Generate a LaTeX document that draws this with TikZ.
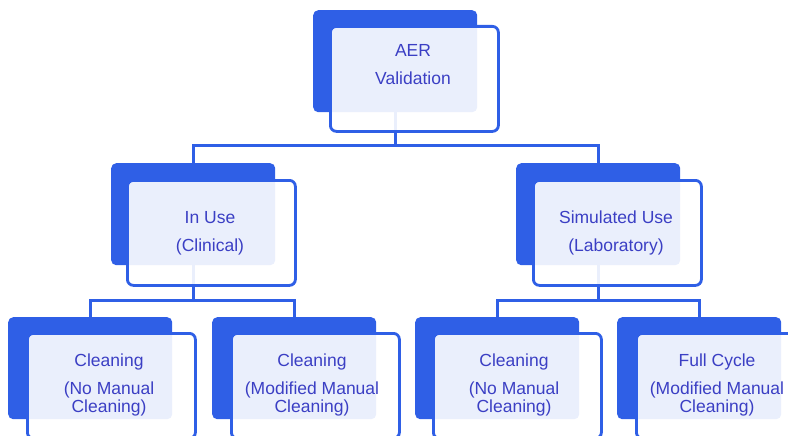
\documentclass[tikz,border=0pt]{standalone}
\usepackage{fontspec}
\setmainfont{Liberation Sans}
\definecolor{bblue}{HTML}{2F5FE6}
\definecolor{tblue}{HTML}{3B3FC4}
\begin{document}
\begin{tikzpicture}[x=1pt,y=-1pt,
  backbox/.style={fill=bblue, draw=none, rounded corners=5pt, minimum width=164pt, minimum height=102pt, inner sep=0pt, anchor=north west},
  frontbox/.style={fill=white, fill opacity=0.9, draw=bblue, draw opacity=1, line width=2.8pt, rounded corners=6pt, minimum width=168pt, minimum height=105pt, inner sep=0pt, anchor=north west},
  lbl/.style={text=tblue, font=\fontsize{17.5}{18}\selectfont, align=center, inner sep=0pt},
  conn/.style={draw=bblue, line width=3pt}]
\useasboundingbox (0,0) rectangle (788,436);
\clip (0,0) rectangle (788,436);
% back boxes
\node[backbox] (tb) at (313,10) {};
\node[backbox] (lb) at (111,163) {};
\node[backbox] (rb) at (516,163) {};
\node[backbox] (b1b) at (8,317) {};
\node[backbox] (b2b) at (212,317) {};
\node[backbox] (b3b) at (415,317) {};
\node[backbox] (b4b) at (617,317) {};
% bus coordinates
\coordinate (bus1) at (0,145);
\coordinate (bus2) at (0,300);
% connectors
\draw[conn] (tb.south) -- (tb.south |- bus1);
\draw[conn] (lb.north) -- (lb.north |- bus1) -- (rb.north |- bus1) -- (rb.north);
\draw[conn] (lb.south) -- (lb.south |- bus2);
\draw[conn] (b1b.north) -- (b1b.north |- bus2) -- (b2b.north |- bus2) -- (b2b.north);
\draw[conn] (rb.south) -- (rb.south |- bus2);
\draw[conn] (b3b.north) -- (b3b.north |- bus2) -- (b4b.north |- bus2) -- (b4b.north);
% front boxes
\node[frontbox] (tf) at (329,25) {};
\node[frontbox] (lf) at (126,179) {};
\node[frontbox] (rf) at (532,179) {};
\node[frontbox] (b1f) at (26,332) {};
\node[frontbox] (b2f) at (230,332) {};
\node[frontbox] (b3f) at (432,332) {};
\node[frontbox] (b4f) at (635,332) {};
% labels
\node[lbl] (tt) at (413,65) {AER\\[10pt]Validation};
\node[lbl] (lt) at (210,233) {In Use\\[10pt](Clinical)};
\node[lbl] (rt) at (616,233) {Simulated Use\\[10pt](Laboratory)};
\node[lbl] (b1t) at (109,385) {Cleaning\\[10pt](No Manual\\Cleaning)};
\node[lbl] (b2t) at (312,385) {Cleaning\\[10pt](Modified Manual\\Cleaning)};
\node[lbl] (b3t) at (514,385) {Cleaning\\[10pt](No Manual\\Cleaning)};
\node[lbl] (b4t) at (717,385) {Full Cycle\\[10pt](Modified Manual\\Cleaning)};
\end{tikzpicture}
\end{document}
